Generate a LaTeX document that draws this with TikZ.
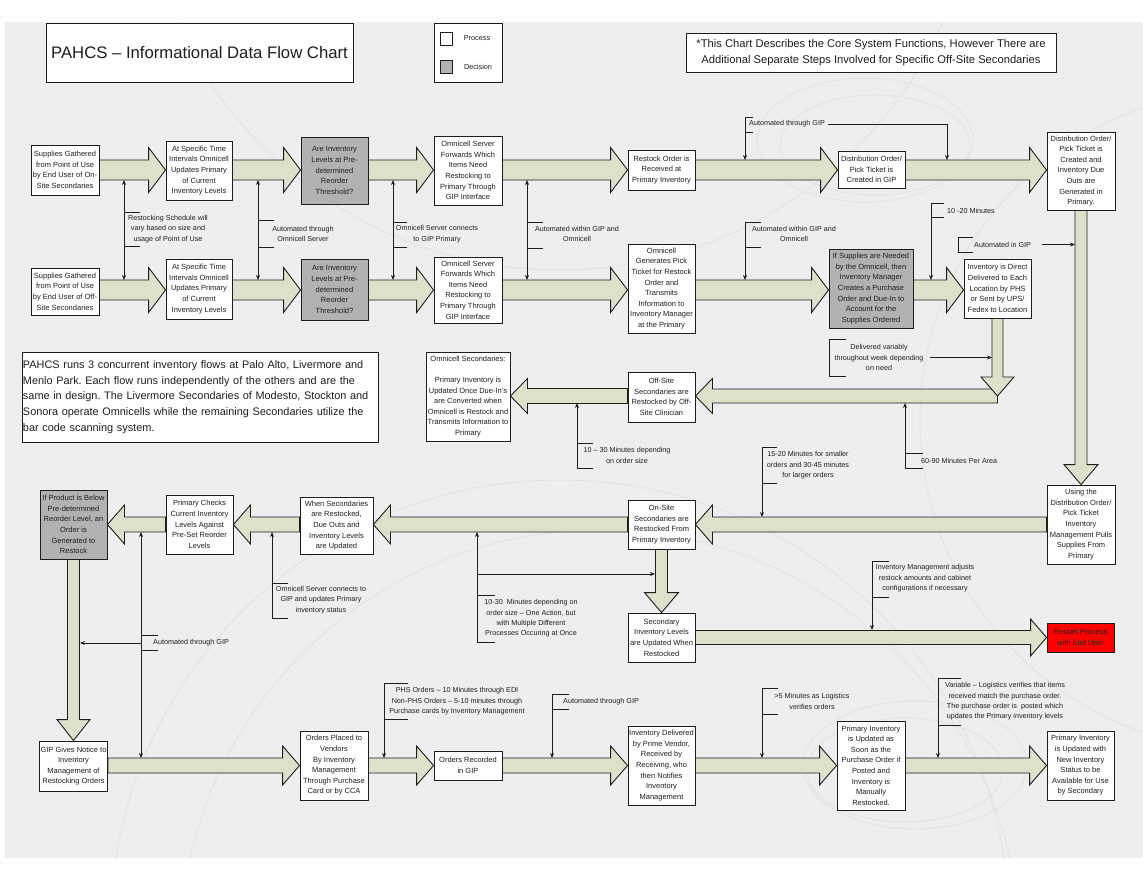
\documentclass[tikz,border=0pt]{standalone}
\usepackage{fontspec}
\setmainfont{Liberation Sans}
\usetikzlibrary{arrows.meta,calc}
\frenchspacing
\definecolor{bgc}{RGB}{238,238,238}
\definecolor{arrfill}{RGB}{221,225,204}
\definecolor{decis}{RGB}{178,178,178}
\definecolor{arcc}{RGB}{228,228,228}
\definecolor{ink}{RGB}{30,30,30}
\pgfdeclarelayer{back}
\pgfdeclarelayer{arrl}
\pgfsetlayers{back,arrl,main}
\tikzset{
  box/.style={draw=ink, line width=0.9pt, fill=white, align=center, inner sep=1pt, text=ink, font=\fontsize{7.5}{10.6}\selectfont},
  dec/.style={box, fill=decis},
  redbox/.style={box, fill=red},
  fatarr/.style={fill=arrfill, draw=ink, line width=0.9pt, line join=miter},
  ann/.style={draw=ink, line width=0.7pt},
  annarr/.style={ann, -{Stealth[length=5pt,width=4pt]}},
  annboth/.style={ann, {Stealth[length=5pt,width=4pt]}-{Stealth[length=5pt,width=4pt]}},
  annt/.style={align=center, inner sep=0pt, text=ink, font=\fontsize{7.2}{10.4}\selectfont},
  frame/.style={draw=ink, line width=0.9pt, fill=white, text=ink},
}
\newcommand\bx[7][box]{\node[#1, minimum width={(#5-#3)*1pt}, minimum height={(#6-#4)*1pt}] (#2) at ({(#3+#5)/2},{(#4+#6)/2}) {#7};}
\newcommand\fatH[5]{\path[fatarr] let \p1=(#1), \p2=(#2), \n1={(\x2-\x1)/abs(\x2-\x1)} in
  (\x1,{\y1+#3}) -- ({\x2-(\n1)*#5},{\y1+#3}) -- ({\x2-(\n1)*#5},{\y1+#4}) -- (\x2,\y1) -- ({\x2-(\n1)*#5},{\y1-#4}) -- ({\x2-(\n1)*#5},{\y1-#3}) -- (\x1,{\y1-#3}) -- cycle;}
\newcommand\fatV[5]{\path[fatarr] let \p1=(#1), \p2=(#2), \n1={(\y2-\y1)/abs(\y2-\y1)} in
  ({\x1+#3},\y1) -- ({\x1+#3},{\y2-(\n1)*#5}) -- ({\x1+#4},{\y2-(\n1)*#5}) -- (\x1,\y2) -- ({\x1-#4},{\y2-(\n1)*#5}) -- ({\x1-#3},{\y2-(\n1)*#5}) -- ({\x1-#3},\y1) -- cycle;}
\begin{document}
\begin{tikzpicture}[x=1pt,y=-1pt]
\useasboundingbox (0,0) rectangle (1143,871);
\begin{pgfonlayer}{back}
\fill[white] (0,0) rectangle (1143,871);
\fill[bgc] (5,22) rectangle (1143,858);
\begin{scope}
\clip (5,22) rectangle (1143,858);
\draw[arcc, line width=1pt] (865,140) ellipse [x radius=108, y radius=62];
\draw[arcc, line width=1pt] (875,145) ellipse [x radius=95, y radius=50];
\draw[arcc, line width=1pt] (915,765) ellipse [x radius=112, y radius=64];
\draw[arcc, line width=1pt] (905,770) ellipse [x radius=98, y radius=52];
\draw[arcc, line width=1pt] (560,930) circle [radius=450];
\draw[arcc, line width=1pt] (600,950) circle [radius=420];
\draw[arcc, line width=1pt] (560,-150) circle [radius=420];
\draw[arcc, line width=1pt] (1250,420) circle [radius=330];
\end{scope}
\end{pgfonlayer}

% rows
\coordinate (r1) at (0,170);
\coordinate (r2) at (0,290);
\coordinate (r3) at (0,396);
\coordinate (r4) at (0,524.5);
\coordinate (r5) at (0,637.5);
\coordinate (r6) at (0,765.5);

% title, legend, notes
\node[frame, minimum width=307pt, minimum height=59pt, inner sep=0pt, font=\fontsize{16.7}{20}\selectfont] (title) at (199.5,52.5) {PAHCS – Informational Data Flow Chart};
\node[frame, minimum width=68pt, minimum height=59pt] (legend) at (468,52.5) {};
\node[frame, line width=0.8pt, minimum width=12pt, minimum height=13pt, inner sep=0pt] (lgp) at (446,38.5) {};
\node[font=\fontsize{7.3}{9}\selectfont, text=ink, inner sep=0pt] (lgpt) at (477,38) {Process};
\node[frame, line width=0.8pt, fill=decis, minimum width=12pt, minimum height=13pt, inner sep=0pt] (lgd) at (446,66.5) {};
\node[font=\fontsize{7.3}{9}\selectfont, text=ink, inner sep=0pt] (lgdt) at (478,67) {Decision};
\node[frame, minimum width=370pt, minimum height=39pt, inner sep=1pt, align=center, font=\fontsize{11.2}{16}\selectfont] (note) at (871,52.5) {*This Chart Describes the Core System Functions, However There are\\Additional Separate Steps Involved for Specific Off-Site Secondaries};
\node[frame, text width=354pt, minimum height=90pt, inner sep=1pt, align=left, font=\fontsize{10.9}{15.75}\selectfont] (para) at (200,397) {PAHCS runs 3 concurrent inventory flows at Palo Alto, Livermore and\\Menlo Park. Each flow runs independently of the others and are the\\same in design. The Livermore Secondaries of Modesto, Stockton and\\Sonora operate Omnicells while the remaining Secondaries utilize the\\bar code scanning system.};

% row 1
\bx{A1}{31}{145}{99}{195}{Supplies Gathered\\from Point of Use\\by End User of On-\\Site Secondaries}
\bx{B1}{166}{141}{232}{200}{At Specific Time\\Intervals Omnicell\\Updates Primary\\of Current\\Inventory Levels}
\bx[dec]{C1}{301}{137}{368}{204}{Are Inventory\\Levels at Pre-\\determined\\Reorder\\Threshold?}
\bx{D1}{434}{136}{502}{205}{Omnicell Server\\Forwards Which\\Items Need\\Restocking to\\Primary Through\\GIP Interface}
\bx{E1}{628}{150}{695}{190}{Restock Order is\\Received at\\Primary Inventory}
\bx{F1}{838}{151}{905}{188}{Distribution Order/\\Pick Ticket is\\Created in GIP}
\bx{G1}{1047}{132}{1115}{210}{Distribution Order/\\Pick Ticket is\\Created and\\Inventory Due\\Outs are\\Generated in\\Primary.}
% row 2
\bx{A2}{31}{268}{99}{315}{Supplies Gathered\\from Point of Use\\by End User of Off-\\Site Secondaries}
\bx{B2}{166}{259}{232}{319}{At Specific Time\\Intervals Omnicell\\Updates Primary\\of Current\\Inventory Levels}
\bx[dec]{C2}{301}{259}{368}{320}{Are Inventory\\Levels at Pre-\\determined\\Reorder\\Threshold?}
\bx{D2}{434}{257}{502}{323}{Omnicell Server\\Forwards Which\\Items Need\\Restocking to\\Primary Through\\GIP Interface}
\bx{E2}{628}{244}{695}{333}{Omnicell\\Generates Pick\\Ticket for Restock\\Order and\\Transmits\\Information to\\Inventory Manager\\at the Primary}
\bx[dec]{H2}{829}{249}{913}{328}{If Supplies are Needed\\by the Omnicell, then\\Inventory Manager\\Creates a Purchase\\Order and Due-In to\\Account for the\\Supplies Ordered}
\bx{I2}{964}{259}{1031}{318}{Inventory is Direct\\Delivered to Each\\Location by PHS\\or Sent by UPS/\\Fedex to Location}
% row 3
\bx{J}{628}{372}{695}{422}{Off-Site\\Secondaries are\\Restocked by Off-\\Site Clinician}
\bx{K}{426}{352}{510}{441}{Omnicell Secondaries:\\[10.4pt]Primary Inventory is\\Updated Once Due-In's\\are Converted when\\Omnicell is Restock and\\Transmits Information to\\Primary}
% row 4
\bx{L}{1047}{485}{1115}{564}{Using the\\Distribution Order/\\Pick Ticket\\Inventory\\Management Pulls\\Supplies From\\Primary}
\bx{M}{628}{500}{695}{549}{On-Site\\Secondaries are\\Restocked From\\Primary Inventory}
\bx{N}{300}{497}{373}{554}{When Secondaries\\are Restocked,\\Due Outs and\\Inventory Levels\\are Updated}
\bx{O}{166}{495}{233}{554}{Primary Checks\\Current Inventory\\Levels Against\\Pre-Set Reorder\\Levels}
\bx[dec]{P}{40}{490}{107}{559}{If Product is Below\\Pre-determined\\Reorder Level, an\\Order is\\Generated to\\Restock}
% row 5
\bx{SI}{628}{613}{695}{662}{Secondary\\Inventory Levels\\are Updated When\\Restocked}
\bx[redbox]{RS}{1047}{623}{1114}{652}{Restart Process\\with End User}
% row 6
\bx{Q}{40}{741}{107}{791}{GIP Gives Notice to\\Inventory\\Management of\\Restocking Orders}
\bx{R}{300}{731}{368}{800}{Orders Placed to\\Vendors\\By Inventory\\Management\\Through Purchase\\Card or by CCA}
\bx{S}{434}{751}{502}{780}{Orders Recorded\\in GIP}
\bx{T}{628}{726}{695}{805}{Inventory Delivered\\by Prime Vendor,\\Received by\\Receiving, who\\then Notifies\\Inventory\\Management}
\bx{U}{837}{721}{905}{810}{Primary Inventory\\is Updated as\\Soon as the\\Purchase Order if\\Posted and\\Inventory is\\Manually\\Restocked.}
\bx{V}{1047}{731}{1114}{800}{Primary Inventory\\is Updated with\\New Inventory\\Status to be\\Available for Use\\by Secondary}

% fat arrows
\begin{pgfonlayer}{arrl}
\fatH{A1.east|-r1}{B1.west|-r1}{10pt}{22.5pt}{17pt}
\fatH{B1.east|-r1}{C1.west|-r1}{10pt}{22.5pt}{17pt}
\fatH{C1.east|-r1}{D1.west|-r1}{10pt}{22.5pt}{17pt}
\fatH{D1.east|-r1}{E1.west|-r1}{10pt}{22.5pt}{17pt}
\fatH{E1.east|-r1}{F1.west|-r1}{10pt}{22.5pt}{17pt}
\fatH{F1.east|-r1}{G1.west|-r1}{10pt}{22.5pt}{17pt}
\fatH{A2.east|-r2}{B2.west|-r2}{10pt}{22.5pt}{17pt}
\fatH{B2.east|-r2}{C2.west|-r2}{10pt}{22.5pt}{17pt}
\fatH{C2.east|-r2}{D2.west|-r2}{10pt}{22.5pt}{17pt}
\fatH{D2.east|-r2}{E2.west|-r2}{10pt}{22.5pt}{17pt}
\fatH{E2.east|-r2}{H2.west|-r2}{10pt}{22.5pt}{17pt}
\fatH{H2.east|-r2}{I2.west|-r2}{10pt}{22.5pt}{17pt}
\fatV{G1.south}{L.north}{6pt}{17pt}{20pt}
\fatH{I2.center|-r3}{J.east|-r3}{7pt}{17.5pt}{17pt}
\fatV{I2.south}{I2.center|-r3}{5.5pt}{16.5pt}{19pt}
\fatH{J.west|-r3}{K.east|-r3}{7.5pt}{17.5pt}{17pt}
\fatH{L.west|-r4}{M.east|-r4}{7.5pt}{19.5pt}{17pt}
\fatH{M.west|-r4}{N.east|-r4}{7.5pt}{19.5pt}{17pt}
\fatH{N.west|-r4}{O.east|-r4}{7.5pt}{19.5pt}{17pt}
\fatH{O.west|-r4}{P.east|-r4}{7.5pt}{19.5pt}{17pt}
\fatV{M.south}{SI.north}{6pt}{17pt}{20pt}
\fatV{P.south}{Q.north}{6pt}{16.5pt}{21pt}
\fatH{SI.east|-r5}{RS.west|-r5}{7pt}{18.5pt}{16pt}
\fatH{Q.east|-r6}{R.west|-r6}{7.5pt}{19.5pt}{17pt}
\fatH{R.east|-r6}{S.west|-r6}{7.5pt}{19.5pt}{17pt}
\fatH{S.east|-r6}{T.west|-r6}{7.5pt}{19.5pt}{17pt}
\fatH{T.east|-r6}{U.west|-r6}{7.5pt}{19.5pt}{17pt}
\fatH{U.east|-r6}{V.west|-r6}{7.5pt}{19.5pt}{17pt}
\end{pgfonlayer}

% annotations
% 1
\coordinate (a1t) at (124,180); \coordinate (a1b) at (124,280);
\draw[annboth] (a1t) -- (a1b);
\draw[ann] (140,212) -- (124,212) (124,246) -- (140,246);
\node[annt] (t1) at (168,229) {Restocking Schedule will\\vary based on size and\\usage of Point of Use};
% 2
\coordinate (a2t) at (258,180); \coordinate (a2b) at (258,280);
\draw[annboth] (a2t) -- (a2b);
\draw[ann] (274,220) -- (258,220) (258,247) -- (274,247);
\node[annt] (t2) at (303,234) {Automated through\\Omnicell Server};
% 3
\coordinate (a3t) at (393,180); \coordinate (a3b) at (393,280);
\draw[annboth] (a3t) -- (a3b);
\draw[ann] (407,222) -- (393,222) (393,247) -- (407,247);
\node[annt] (t3) at (437,234) {Omnicell Server connects\\to GIP Primary};
% 4
\coordinate (a4t) at (527,180); \coordinate (a4b) at (527,280);
\draw[annboth] (a4t) -- (a4b);
\draw[ann] (543,222) -- (527,222) (527,248) -- (543,248);
\node[annt] (t4) at (577,234) {Automated within GIP and\\Omnicell};
% 5
\coordinate (a5b) at (745,280);
\draw[ann] (761,247) -- (745,247);
\draw[annarr] (761,222) -- (745,222) -- (a5b);
\node[annt] (t5) at (794,234) {Automated within GIP and\\Omnicell};
% 6
\node[annt, anchor=west] (t6) at (749,124) {Automated through GIP};
\coordinate (a6a) at (745,160); \coordinate (a6b) at (947,160);
\draw[ann] (753,132) -- (745,132);
\draw[annarr] (753,117) -- (745,117) -- (a6a);
\draw[annarr] ($(t6.east)+(3,0)$) -- (t6.east-|a6b) -- (a6b);
% 7
\coordinate (a7b) at (931,280);
\draw[ann] (944,217) -- (931,217);
\draw[annarr] (944,203) -- (931,203) -- (a7b);
\node[annt, anchor=west] (t7) at (947,211) {10 -20 Minutes};
% 8
\draw[ann] (973,237) -- (958,237) -- (958,252) -- (973,252);
\node[annt, anchor=west] (t8) at (974,244.5) {Automated in GIP};
\coordinate (a8e) at (1075,244.5);
\draw[annarr] ($(t8.east)+(11,0)$) -- (a8e);
% 9
\draw[ann] (846,339) -- (829,339) -- (829,376) -- (846,376);
\node[annt] (t9) at (879,357.5) {Delivered variably\\throughout week depending\\on need};
\coordinate (a9e) at (992,357.5);
\draw[annarr] (930,357.5) -- (a9e);
% 10
\coordinate (a10t) at (577,403);
\draw[ann] (593,443) -- (577,443);
\draw[annarr] (593,468) -- (577,468) -- (a10t);
\node[annt] (t10) at (627,455.5) {10 – 30 Minutes depending\\on order size};
% 11
\coordinate (a11t) at (905,403);
\draw[ann] (923,453) -- (905,453);
\draw[annarr] (923,468) -- (905,468) -- (a11t);
\node[annt, anchor=west] (t11) at (921,460.5) {60-90 Minutes Per Area};
% 12
\coordinate (a12b) at (762,517);
\draw[ann] (777,483) -- (762,483);
\draw[annarr] (777,447) -- (762,447) -- (a12b);
\node[annt] (t12) at (808,465.5) {15-20 Minutes for smaller\\orders and 30-45 minutes\\for larger orders};
% 13
\coordinate (a13t) at (477,532); \coordinate (a13e) at (655,574);
\draw[ann] (495,595) -- (477,595);
\draw[annarr] (495,642) -- (477,642) -- (a13t);
\draw[annarr] (477,574) -- (a13e);
\node[annt] (t13) at (531,618.5) {10-30\ \ Minutes depending on\\order size – One Action, but\\with Multiple Different\\Processes Occuring at Once};
% 14
\coordinate (a14t) at (272,532);
\draw[ann] (288,583) -- (272,583);
\draw[annarr] (288,618) -- (272,618) -- (a14t);
\node[annt] (t14) at (321,600) {Omnicell Server connects to\\GIP and updates Primary\\inventory status};
% 15
\coordinate (a15t) at (141,532); \coordinate (a15b) at (141,758); \coordinate (a15e) at (80,643);
\draw[annboth] (a15t) -- (a15b);
\draw[ann] (158,635) -- (141,635) (141,650) -- (158,650);
\draw[annarr] (141,643) -- (a15e);
\node[annt, anchor=west] (t15) at (153,643) {Automated through GIP};
% 16
\coordinate (a16b) at (872,630);
\draw[ann] (889,597) -- (872,597);
\draw[annarr] (889,561) -- (872,561) -- (a16b);
\node[annt] (t16) at (925,578.5) {Inventory Management adjusts\\restock amounts and cabinet\\configurations if necessary};
% 17
\coordinate (a17b) at (384,758);
\draw[ann] (408,719) -- (384,719);
\draw[annarr] (408,683) -- (384,683) -- (a17b);
\node[annt] (t17) at (457,701.5) {PHS Orders – 10 Minutes through EDI\\Non-PHS Orders – 5-10 minutes through\\Purchase cards by Inventory Management};
% 18
\coordinate (a18b) at (552,758);
\draw[ann] (569,709) -- (552,709);
\draw[annarr] (569,694) -- (552,694) -- (a18b);
\node[annt, anchor=west] (t18) at (563,701.5) {Automated through GIP};
% 19
\coordinate (a19b) at (762,758);
\draw[ann] (778,714) -- (762,714);
\draw[annarr] (778,688) -- (762,688) -- (a19b);
\node[annt] (t19) at (812,701.5) {>5 Minutes as Logistics\\verifies orders};
% 20
\coordinate (a20b) at (938,758);
\draw[ann] (961,725) -- (938,725);
\draw[annarr] (961,678) -- (938,678) -- (a20b);
\node[annt] (t20) at (1005,701.5) {Variable – Logistics verifies that items\\received match the purchase order.\\The purchase order is\ \ posted which\\updates the Primary inventory levels};
\end{tikzpicture}
\end{document}
